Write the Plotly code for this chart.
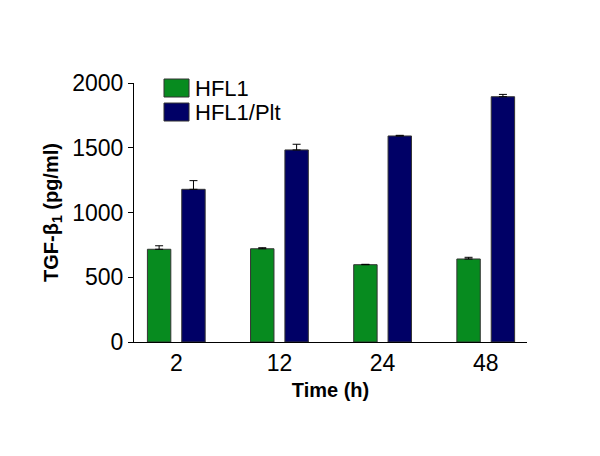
import plotly.graph_objects as go

categories = ["2", "12", "24", "48"]
hfl1 = [716, 720, 597, 641]
hfl1_err = [27, 8, 3, 13]
hfl1_plt = [1179, 1483, 1591, 1894]
hfl1_plt_err = [67, 44, 5, 18]
y_ticks = [0, 500, 1000, 1500, 2000]

GREEN = "#078B1F"
NAVY = "#000066"
FONT = "Liberation Sans, Arial, sans-serif"

fig = go.Figure()
fig.add_trace(go.Bar(
    x=categories, y=hfl1, name="HFL1", width=0.227, offset=-0.28,
    marker=dict(color=GREEN, line=dict(color="#333333", width=1)),
    error_y=dict(type="data", symmetric=False, array=hfl1_err,
                 arrayminus=[0] * len(hfl1_err), color="black", thickness=1, width=4),
))
fig.add_trace(go.Bar(
    x=categories, y=hfl1_plt, name="HFL1/Plt", width=0.227, offset=0.053,
    marker=dict(color=NAVY, line=dict(color="#333333", width=1)),
    error_y=dict(type="data", symmetric=False, array=hfl1_plt_err,
                 arrayminus=[0] * len(hfl1_plt_err), color="black", thickness=1, width=4),
))

# legend drawn as shapes + text
legend_items = [("HFL1", GREEN), ("HFL1/Plt", NAVY)]
shapes = []
annotations = []
for i, (label, col) in enumerate(legend_items):
    top = 1.0154 - i * 0.0927
    shapes.append(dict(type="rect", xref="paper", yref="paper",
                       x0=0.0763, x1=0.140, y0=top - 0.0695, y1=top,
                       fillcolor=col, line=dict(color="#333333", width=1)))
    annotations.append(dict(xref="paper", yref="paper", x=0.150, y=top - 0.035,
                            text=label, showarrow=False, xanchor="left", yanchor="middle",
                            font=dict(family=FONT, size=22, color="black")))

# page body has an 8px default margin, so the figure is sized to compensate
fig.update_layout(
    width=592, height=448,
    margin=dict(l=126, r=73, t=75, b=114),
    plot_bgcolor="white", paper_bgcolor="white",
    barmode="overlay", showlegend=False,
    shapes=shapes, annotations=annotations,
    font=dict(family=FONT, color="black"),
    xaxis=dict(
        type="category", range=[-0.41, 3.40],
        showline=True, linecolor="black", linewidth=1,
        ticks="", showgrid=False, zeroline=False,
        tickfont=dict(family=FONT, size=23, color="black"),
        title=dict(text="Time (h)", font=dict(family=FONT, size=20, color="black", weight="bold"),
                   standoff=8),
    ),
    yaxis=dict(
        range=[0, 2000], tickvals=y_ticks,
        showline=True, linecolor="black", linewidth=1,
        ticks="outside", ticklen=5, tickcolor="black",
        showgrid=False, zeroline=False,
        tickfont=dict(family=FONT, size=23, color="black"),
        title=dict(text="TGF-β<sub>1</sub> (pg/ml)",
                   font=dict(family=FONT, size=20, color="black", weight="bold"),
                   standoff=8),
    ),
)

fig.write_html("out.html")
